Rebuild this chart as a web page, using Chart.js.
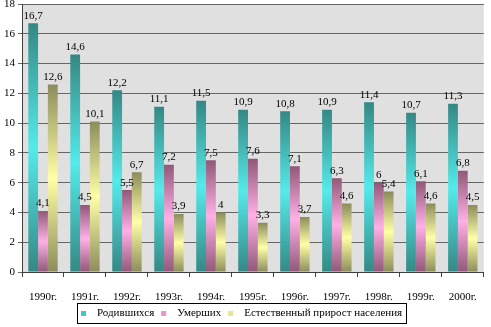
<!DOCTYPE html>
<html>
<head>
<meta charset="utf-8">
<script src="https://cdn.jsdelivr.net/npm/chart.js@4"></script>
<style>
  html, body { margin: 0; padding: 0; background: #fff; }
  #wrap { width: 491px; height: 327px; }
</style>
</head>
<body>
<div id="wrap"><canvas id="chart"></canvas></div>
<script>
const years = ['1990г.', '1991г.', '1992г.', '1993г.', '1994г.', '1995г.', '1996г.', '1997г.', '1998г.', '1999г.', '2000г.'];
const born = [16.7, 14.6, 12.2, 11.1, 11.5, 10.9, 10.8, 10.9, 11.4, 10.7, 11.3];
const died = [4.1, 4.5, 5.5, 7.2, 7.5, 7.6, 7.1, 6.3, 6, 6.1, 6.8];
const growth = [12.6, 10.1, 6.7, 3.9, 4, 3.3, 3.7, 4.6, 5.4, 4.6, 4.5];

const FONT = 'Liberation Serif';
const legendColors = ['#3fc8c6', '#ea96cc', '#e6e692'];

// bar fill: dark at both ends, light in the middle (Excel "center" gradient)
function barFill(dark, light) {
  return function(ctx) {
    const chart = ctx.chart;
    const y = chart.scales.y;
    if (!chart.chartArea || !y || ctx.raw == null) return light;
    const top = y.getPixelForValue(ctx.raw);
    const bot = y.getPixelForValue(0);
    if (!isFinite(top) || bot - top < 1) return light;
    const g = chart.ctx.createLinearGradient(0, top, 0, bot);
    g.addColorStop(0, dark);
    g.addColorStop(0.5, light);
    g.addColorStop(1, dark);
    return g;
  };
}

const plotBg = {
  id: 'plotBg',
  beforeDraw(chart) {
    const a = chart.chartArea, c = chart.ctx;
    c.save();
    c.fillStyle = '#e0e0e0';
    c.fillRect(a.left, a.top, a.right - a.left, a.bottom - a.top);
    c.restore();
  }
};

const valueLabels = {
  id: 'valueLabels',
  afterDatasetsDraw(chart) {
    const c = chart.ctx;
    c.save();
    c.font = '11px "' + FONT + '"';
    c.fillStyle = '#000';
    c.textAlign = 'center';
    c.textBaseline = 'bottom';
    chart.data.datasets.forEach((ds, i) => {
      chart.getDatasetMeta(i).data.forEach((bar, j) => {
        c.fillText(String(ds.data[j]).replace('.', ','), bar.x, bar.y - 2);
      });
    });
    c.restore();
  }
};

// boxed legend under the axis, drawn by hand (space kept by layout padding)
const boxLegend = {
  id: 'boxLegend',
  afterDraw(chart) {
    const c = chart.ctx;
    c.save();
    c.font = '11px "' + FONT + '"';
    const items = chart.data.datasets.map((ds, i) => ({ text: ds.label, color: legendColors[i], w: c.measureText(ds.label).width }));
    const markGap = 11, itemGap = 7, pad = 4;
    let total = pad * 2;
    items.forEach((it, i) => { total += 5 + markGap + it.w + (i < items.length - 1 ? itemGap : 0); });
    const left = Math.round(242 - total / 2);
    const top = 303, h = 20;
    c.strokeStyle = '#000';
    c.lineWidth = 1;
    c.strokeRect(left + 0.5, top + 0.5, Math.round(total), h);
    let x = left + pad;
    const cy = top + h / 2 + 0.5;
    c.textBaseline = 'middle';
    c.fillStyle = '#000';
    items.forEach(it => {
      c.fillStyle = it.color;
      c.fillRect(x, cy - 2.5, 5, 5);
      x += 5 + markGap;
      c.fillStyle = '#000';
      c.fillText(it.text, x, cy);
      x += it.w + itemGap;
    });
    c.restore();
  }
};

new Chart(document.getElementById('chart'), {
  type: 'bar',
  data: {
    labels: years,
    datasets: [{
      label: 'Родившихся',
      data: born,
      backgroundColor: barFill('#348884', '#55eaea')
    }, {
      label: 'Умерших',
      data: died,
      backgroundColor: barFill('#905878', '#ffb0e6')
    }, {
      label: 'Естественный прирост населения',
      data: growth,
      backgroundColor: barFill('#8c8c5c', '#ffffa8')
    }]
  },
  options: {
    responsive: true,
    maintainAspectRatio: false,
    animation: false,
    devicePixelRatio: 1,
    layout: { padding: { top: 4, right: 4, left: 0, bottom: 25 } },
    datasets: {
      bar: { categoryPercentage: 0.7, barPercentage: 1 }
    },
    scales: {
      x: {
        grid: { drawOnChartArea: false, drawTicks: true, tickLength: 5, color: '#404040' },
        border: { color: '#404040' },
        ticks: { color: '#000', font: { family: FONT, size: 11 }, padding: 14, maxRotation: 0 },
        afterFit(s) { s.height = 30; }
      },
      y: {
        min: 0, max: 18,
        grid: { color: '#666', tickLength: 4 },
        border: { color: '#404040' },
        ticks: { stepSize: 2, color: '#000', font: { family: FONT, size: 11, lineHeight: 0.1 }, padding: 3 },
        afterFit(s) { s.width = 22; }
      }
    },
    plugins: {
      tooltip: { enabled: false },
      legend: { display: false }
    }
  },
  plugins: [plotBg, valueLabels, boxLegend]
});
</script>
</body>
</html>
